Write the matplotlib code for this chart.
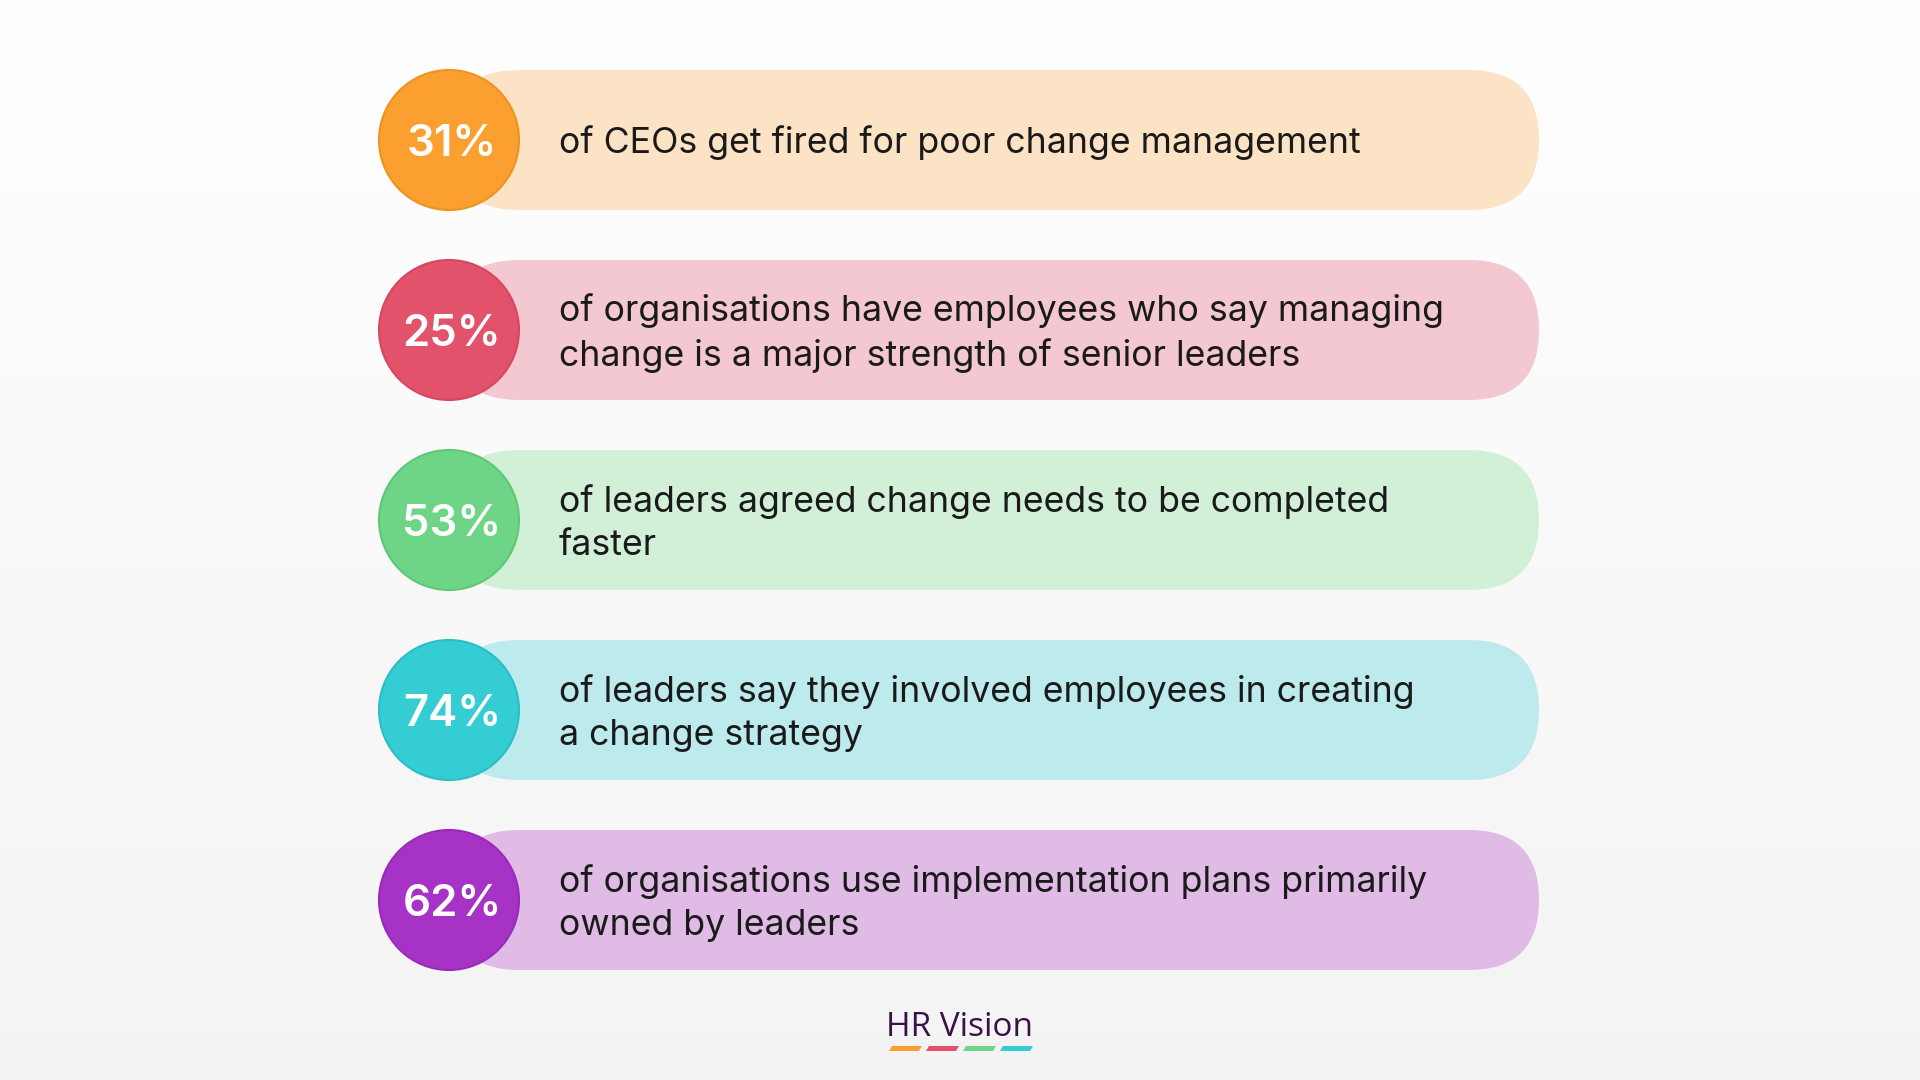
import matplotlib
matplotlib.use("Agg")
import matplotlib.pyplot as plt
import numpy as np
from matplotlib.patches import FancyBboxPatch, Circle, Polygon

percents = ["31%", "25%", "53%", "74%", "62%"]
texts = [
    "of CEOs get fired for poor change management",
    "of organisations have employees who say managing\nchange is a major strength of senior leaders",
    "of leaders agreed change needs to be completed\nfaster",
    "of leaders say they involved employees in creating\na change strategy",
    "of organisations use implementation plans primarily\nowned by leaders",
]
circle_colors = ["#FBA030", "#E2526A", "#6DD585", "#33CDD3", "#A633C6"]
edge_colors = ["#EE9320", "#D64860", "#5FC877", "#2BBEC4", "#9A2BB8"]
pill_colors = ["#FDE3C5", "#F3C8D0", "#D2F0D8", "#BDEAEC", "#DFBBE6"]
logo_bar_colors = ["#FBA030", "#E2526A", "#6DD585", "#33CDD3"]

fig = plt.figure(figsize=(19.2, 10.8), dpi=100)
ax = fig.add_axes([0, 0, 1, 1])
ax.set_xlim(0, 1920)
ax.set_ylim(1080, 0)
ax.axis("off")

grad = np.linspace(1.0, 0.955, 256).reshape(-1, 1)
ax.imshow(np.dstack([grad, grad, grad]), extent=[0, 1920, 1080, 0], aspect="auto", zorder=0)

fam = ["Inter", "DejaVu Sans"]
centers = [140, 330, 520, 710, 900]
r = 70
for i, cy in enumerate(centers):
    pill = FancyBboxPatch((449, cy - r), 1090, 2 * r,
                          boxstyle="round,pad=0,rounding_size=70",
                          fc=pill_colors[i], ec="none", zorder=1)
    ax.add_patch(pill)
    ax.add_patch(Circle((449, cy), r, fc=circle_colors[i], ec=edge_colors[i], lw=1.5, zorder=2))
    ax.text(452, cy + 4, percents[i], ha="center", va="center", color="white",
            fontsize=31.5, fontweight="semibold", family=fam, zorder=3)
    ax.text(559, cy + 3, texts[i], ha="left", va="center", color="#1A1A1A",
            fontsize=25.7, family=fam, linespacing=1.38, zorder=3)

ax.text(959, 1027, "HR Vision", ha="center", va="center", color="#3A1048",
        fontsize=24, family=["Open Sans", "DejaVu Sans"], zorder=3)
for j, c in enumerate(logo_bar_colors):
    x0 = 889 + j * 37
    ax.add_patch(Polygon([(x0 + 3, 1046), (x0 + 33, 1046), (x0 + 30, 1051), (x0, 1051)],
                         closed=True, fc=c, ec="none", zorder=3))

fig.savefig("out.png", dpi=100)
